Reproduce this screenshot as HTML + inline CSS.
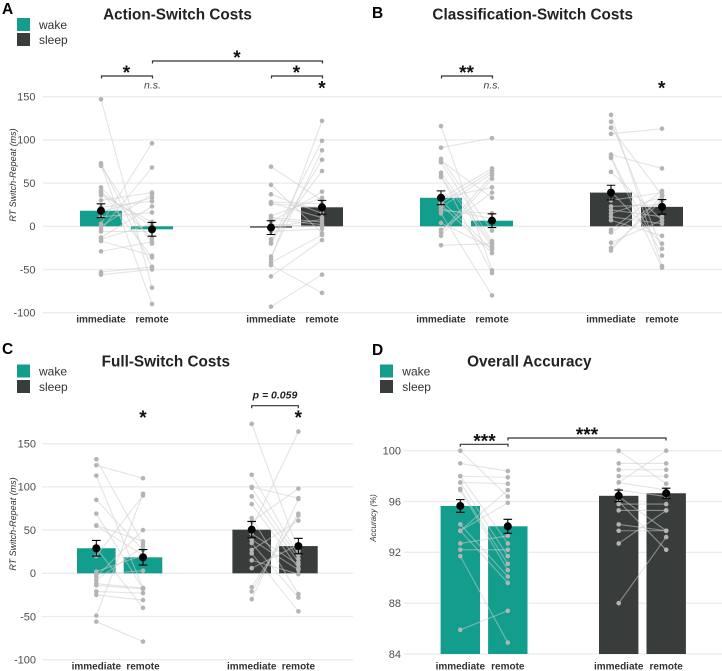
<!DOCTYPE html>
<html lang="en">
<head>
<meta charset="utf-8">
<title>Switch costs and accuracy</title>
<style>
html,body{margin:0;padding:0;background:#fff;}
svg{display:block;font-family:"Liberation Sans",sans-serif;filter:blur(0.25px);}
.title{font-size:15.3px;font-weight:bold;fill:#222;text-anchor:middle;}
.letter{font-size:15.5px;font-weight:bold;fill:#000;}
.leg{font-size:12px;fill:#333;}
.ytitle{font-size:9px;font-style:italic;fill:#333;text-anchor:middle;}
.star{font-size:19px;font-weight:bold;fill:#111;text-anchor:middle;}
.ns{font-size:10.5px;font-style:italic;fill:#444;text-anchor:middle;}
.pv{font-size:10.5px;font-style:italic;font-weight:bold;fill:#222;text-anchor:middle;}
.tick{font-size:11px;fill:#4d4d4d;text-anchor:end;}
.xl{font-size:10px;font-weight:bold;fill:#333;text-anchor:middle;}
.br{fill:none;stroke:#333;stroke-width:1.2;}
</style>
</head>
<body>
<svg id="chart" width="722" height="671" viewBox="0 0 722 671" xmlns="http://www.w3.org/2000/svg">
  <g id="marks"></g>

  <text class="letter" x="2" y="14">A</text>
  <text class="letter" x="372" y="18">B</text>
  <text class="letter" x="2" y="354">C</text>
  <text class="letter" x="372" y="355">D</text>

  <text class="title" x="177.5" y="19.5">Action-Switch Costs</text>
  <text class="title" x="532.7" y="19.5">Classification-Switch Costs</text>
  <text class="title" x="165.8" y="366.7">Full-Switch Costs</text>
  <text class="title" x="529.3" y="366.7">Overall Accuracy</text>

  <g>
    <rect x="17" y="18" width="13" height="13" fill="#139d8c"/>
    <rect x="17" y="33" width="13" height="13" fill="#383c3b"/>
    <text class="leg" x="39" y="29">wake</text>
    <text class="leg" x="39" y="44">sleep</text>
  </g>
  <g>
    <rect x="17" y="364.5" width="13" height="13" fill="#139d8c"/>
    <rect x="17" y="380" width="13" height="13" fill="#383c3b"/>
    <text class="leg" x="39" y="375.7">wake</text>
    <text class="leg" x="39" y="391">sleep</text>
  </g>
  <g>
    <rect x="380" y="364.5" width="13" height="13" fill="#139d8c"/>
    <rect x="380" y="380" width="13" height="13" fill="#383c3b"/>
    <text class="leg" x="402.3" y="375.7">wake</text>
    <text class="leg" x="402.3" y="391">sleep</text>
  </g>

  <text class="ytitle" transform="translate(16,175) rotate(-90)">RT Switch-Repeat (ms)</text>
  <text class="ytitle" transform="translate(16,524) rotate(-90)">RT Switch-Repeat (ms)</text>
  <text class="ytitle" style="font-size:8px" transform="translate(376,518) rotate(-90)">Accuracy (%)</text>

  <g>
    <path class="br" d="M101.5 78.5V76H152.5V78.5"/>
    <text class="star" x="126.5" y="79">*</text>
    <path class="br" d="M152.5 63.5V61H322.5V63.5"/>
    <text class="star" x="237" y="64">*</text>
    <path class="br" d="M271.5 78.5V76H322.5V78.5"/>
    <text class="star" x="296.5" y="79">*</text>
    <text class="ns" x="152.5" y="88.7">n.s.</text>
    <text class="star" x="322" y="94.7">*</text>
  </g>
  <g>
    <path class="br" d="M441.5 78.5V76H492.5V78.5"/>
    <text class="star" x="466.5" y="79">**</text>
    <text class="ns" x="492" y="88.7">n.s.</text>
    <text class="star" x="661.7" y="94.7">*</text>
  </g>
  <g>
    <text class="star" x="143" y="424">*</text>
    <text class="pv" x="275" y="398.3">p = 0.059</text>
    <path class="br" d="M251.7 408.2V405.7H298.3V408.2"/>
    <text class="star" x="298.3" y="424">*</text>
  </g>
  <g>
    <path class="br" d="M460.3 446.8V444.3H508V446.8"/>
    <text class="star" x="484.5" y="447.7">***</text>
    <path class="br" d="M508 440.5V438H666V440.5"/>
    <text class="star" x="587" y="441">***</text>
  </g>
</svg>
<script>
// Category labels and tick labels
const conditionLabels = ['immediate', 'remote'];
const rtTicks = [150, 100, 50, 0, -50, -100];
const accuracyTicks = [100, 96, 92, 88, 84];

// Panel A: action-switch costs
const actionBarMeans = [18, -3.5, -1.5, 22];
const actionPointMeans = [18, -3.5, -1.5, 22];
const actionErrors = [8, 8, 8, 8];
const actionWakeImmediate = [147, 73, 71, 70, 45, 41, 39, 36, 30, 22, 17, 11, 3, 0, -4, -6, -13, -15, -17, -29, -53, -56];
const actionWakeRemote = [-71, -47, -90, -20, -14, -36, 0, 5, 39, 29, 33, 16, 96, 37, 68, -6, 23, 3, -34, -18, -47, -50];
const actionSleepImmediate = [69, 48, 37, 28, 27, 26, 12, 10, 8, 5, 2, -1, -6, -15, -18, -20, -35, -38, -42, -45, -58, -93];
const actionSleepRemote = [30, -8, 15, 26, 10, 22, 33, 5, 2, 40, 0, 8, -3, 64, 99, 77, 88, 122, -10, -77, -16, -56];

// Panel B: classification-switch costs
const classBarMeans = [33, 6.5, 39, 22.5];
const classPointMeans = [33, 6.5, 39, 22.5];
const classErrors = [8, 8, 8.5, 8.5];
const classWakeImmediate = [116, 91, 78, 76, 74, 62, 59, 57, 33, 32, 30, 27, 25, 22, 20, 18, 15, 4, -4, -7, -11, -22];
const classWakeRemote = [-51, 102, -5, 33, -17, -20, -54, -23, 45, 67, -27, 64, -31, 61, 9, 15, -80, -25, 39, 59, 55, -20];
const classSleepImmediate = [129, 121, 114, 107, 83, 80, 79, 63, 40, 30, 23, 19, 15, 11, 7, -4, -7, -19, -25, -28];
const classSleepRemote = [-46, -26, 36, 113, 67, -34, -48, 7, -20, 39, 25, 11, 34, 3, -11, 41, 30, 7, 30, 36];

// Panel C: full-switch costs
const fullBarMeans = [29, 18.5, 50.5, 31.5];
const fullPointMeans = [29, 18.5, 50.5, 31.5];
const fullErrors = [9, 9, 9.5, 9];
const fullWakeImmediate = [132, 125, 113, 85, 69, 55.5, 55, 29, 20, 2, -1, -4, -8, -12, -14, -21, -25, -49, -56];
const fullWakeRemote = [34, 110, -17, 27, -18, 37, 21, -40, 90, 21, 3, 50, 31, -17, -18, -23, -31, 92, -79];
const fullSleepImmediate = [173, 114, 100, 99, 89, 80, 64, 60, 52, 46, 39, 35, 27, 23, 15, 6, -16, -21, -30];
const fullSleepRemote = [26, 21, 87, 17, 13, 6, -24, 98, 164, 10, 4, -28, 61, -44, -1, 33, 67, 69, 86];

// Panel D: overall accuracy
const accuracyBarMeans = [95.65, 94.05, 96.45, 96.65];
const accuracyPointMeans = [95.65, 94.05, 96.45, 96.65];
const accuracyErrors = [0.5, 0.55, 0.45, 0.4];
const accuracyWakeImmediate = [100, 99, 98, 98, 97.5, 97.5, 97, 96.9, 94.2, 93.7, 93.7, 93.7, 92.7, 92.2, 91.7, 85.9];
const accuracyWakeRemote = [96.4, 98.4, 97.9, 92.7, 97.4, 91.7, 91.1, 90.6, 90.1, 96.9, 95.9, 89.6, 93.3, 92.2, 84.9, 87.4];
const accuracySleepImmediate = [100, 99, 98.5, 98, 97.5, 97.5, 96.9, 96.4, 96, 95.8, 95.3, 94.2, 93.7, 92.7, 88];
const accuracySleepRemote = [97.4, 99, 98.5, 98, 96.9, 100, 96.4, 93.7, 92.2, 95.8, 95.3, 93.7, 93.7, 95.3, 93.2];

const NS = 'http://www.w3.org/2000/svg';
const root = document.getElementById('marks');
const WAKE = '#139d8c';
const SLEEP = '#383c3b';

function make(parent, tag, attrs, text) {
  const el = document.createElementNS(NS, tag);
  for (const k in attrs) el.setAttribute(k, attrs[k]);
  if (text !== undefined) el.textContent = text;
  parent.appendChild(el);
  return el;
}

function drawPanel(cfg) {
  const yScale = v => cfg.yTop + (cfg.vTop - v) * (cfg.yBottom - cfg.yTop) / (cfg.vTop - cfg.vBottom);
  const xScale = (group, cond) => cfg.x0 + group * cfg.groupGap + cond * cfg.pairGap;
  const base = yScale(cfg.baseline);

  const panel = make(root, 'g', {});
  
  

  cfg.ticks.forEach(t => {
    const y = yScale(t);
    const grid = make(panel, 'line', {x1: cfg.gridLeft, x2: cfg.gridRight, y1: y, y2: y, stroke: '#ebebeb', 'stroke-width': 1.3});
    
    
    if (cfg.showTicks) {
      const label = make(panel, 'text', {class: 'tick', x: cfg.tickX, y: y + 3.8}, String(t));
      
      
    }
  });

  [0, 1].forEach(group => {
    [0, 1].forEach(cond => {
      const idx = group * 2 + cond;
      const x = xScale(group, cond);
      const y = yScale(cfg.barMeans[idx]);
      const bar = make(panel, 'rect', {
        x: x - cfg.barHalf, width: cfg.barHalf * 2,
        y: Math.min(y, base), height: Math.abs(base - y),
        fill: group === 0 ? WAKE : SLEEP
      });
      
      
      const lab = make(panel, 'text', {class: 'xl', x: x, y: cfg.labelY}, conditionLabels[cond]);
      
      
    });
  });

  cfg.series.forEach((s, group) => {
    s[0].forEach((v, i) => {
      const pair = make(panel, 'line', {
        x1: xScale(group, 0), y1: yScale(v),
        x2: xScale(group, 1), y2: yScale(s[1][i]),
        stroke: 'rgba(205,205,205,0.55)', 'stroke-width': 1.1
      });
      
      
    });
  });

  cfg.series.forEach((s, group) => {
    s.forEach((vals, cond) => {
      vals.forEach(v => {
        const dot = make(panel, 'circle', {cx: xScale(group, cond), cy: yScale(v), r: 2.3, fill: '#b4b4b4'});
        
        
      });
    });
  });

  [0, 1].forEach(group => {
    [0, 1].forEach(cond => {
      const idx = group * 2 + cond;
      const x = xScale(group, cond);
      const m = cfg.pointMeans[idx];
      const e = cfg.errors[idx];
      const yHi = yScale(m + e);
      const yLo = yScale(m - e);
      const err = make(panel, 'path', {
        d: 'M' + (x - 4.3) + ' ' + yHi + 'H' + (x + 4.3) + 'M' + x + ' ' + yHi + 'V' + yLo + 'M' + (x - 4.3) + ' ' + yLo + 'H' + (x + 4.3),
        fill: 'none', stroke: '#000', 'stroke-width': 1.1
      });
      
      
      const mean = make(panel, 'circle', {cx: x, cy: yScale(m), r: 4, fill: '#000'});
      
      
    });
  });
}

drawPanel({
  name: 'panel-action-switch', x0: 101, pairGap: 51, groupGap: 170, barHalf: 21,
  vTop: 150, vBottom: -100, yTop: 96.7, yBottom: 312.7, baseline: 0,
  ticks: rtTicks, showTicks: true, tickX: 35.5, gridLeft: 43, gridRight: 361, labelY: 322.5,
  barMeans: actionBarMeans, pointMeans: actionPointMeans, errors: actionErrors,
  series: [[actionWakeImmediate, actionWakeRemote], [actionSleepImmediate, actionSleepRemote]]
});
drawPanel({
  name: 'panel-classification-switch', x0: 441, pairGap: 51, groupGap: 170, barHalf: 21,
  vTop: 150, vBottom: -100, yTop: 96.7, yBottom: 312.7, baseline: 0,
  ticks: rtTicks, showTicks: false, tickX: 0, gridLeft: 361, gridRight: 722, labelY: 322.5,
  barMeans: classBarMeans, pointMeans: classPointMeans, errors: classErrors,
  series: [[classWakeImmediate, classWakeRemote], [classSleepImmediate, classSleepRemote]]
});
drawPanel({
  name: 'panel-full-switch', x0: 96.3, pairGap: 46.7, groupGap: 155.4, barHalf: 19.3,
  vTop: 150, vBottom: -100, yTop: 443.7, yBottom: 659.7, baseline: 0,
  ticks: rtTicks, showTicks: true, tickX: 36, gridLeft: 42, gridRight: 353, labelY: 669.5,
  barMeans: fullBarMeans, pointMeans: fullPointMeans, errors: fullErrors,
  series: [[fullWakeImmediate, fullWakeRemote], [fullSleepImmediate, fullSleepRemote]]
});
drawPanel({
  name: 'panel-overall-accuracy', x0: 460.3, pairGap: 47.5, groupGap: 158.4, barHalf: 19.7,
  vTop: 100, vBottom: 84, yTop: 450.7, yBottom: 654, baseline: 84,
  ticks: accuracyTicks, showTicks: true, tickX: 401, gridLeft: 404, gridRight: 722, labelY: 669.5,
  barMeans: accuracyBarMeans, pointMeans: accuracyPointMeans, errors: accuracyErrors,
  series: [[accuracyWakeImmediate, accuracyWakeRemote], [accuracySleepImmediate, accuracySleepRemote]]
});
</script>
</body>
</html>
